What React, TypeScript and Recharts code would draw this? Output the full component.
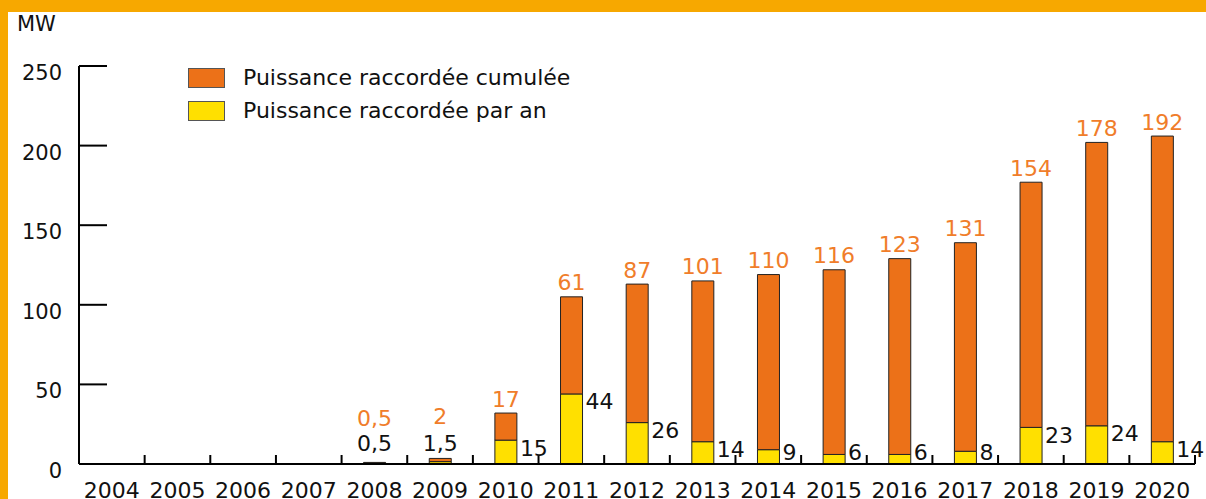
import { BarChart, Bar, XAxis, YAxis, Legend, LabelList } from "recharts";

const years = ["2004", "2005", "2006", "2007", "2008", "2009", "2010", "2011", "2012", "2013", "2014", "2015", "2016", "2017", "2018", "2019", "2020"];
const parAn = [0, 0, 0, 0, 0.5, 1.5, 15, 44, 26, 14, 9, 6, 6, 8, 23, 24, 14];
const cumulee = [0, 0, 0, 0, 0.5, 2, 17, 61, 87, 101, 110, 116, 123, 131, 154, 178, 192];
const yTicks = [0, 50, 100, 150, 200, 250];

const data = years.map((year, i) => ({ year, parAn: parAn[i], cumulee: cumulee[i] }));

const FONT = "'DejaVu Sans', sans-serif";
const ORANGE = "#ec7118";
const YELLOW = "#ffe000";
const ORANGE_TEXT = "#f07d2a";
const FRAME = "#f7a800";
const SMALL = 5;

const fmt = (v: number) => String(v).replace(".", ",");
const val = (v: any): number => (Array.isArray(v) ? v[1] - v[0] : Number(v));

function YTick({ x, y, payload }: any) {
  return (
    <g>
      <line x1={x} x2={x + 28} y1={y} y2={y} stroke="#000" strokeWidth={2} />
      <text x={x - 17} y={y + 7} textAnchor="end" dominantBaseline="central" fontSize={21} fill="#111" fontFamily={FONT}>
        {payload.value}
      </text>
    </g>
  );
}

function XTick({ x, y, payload, bandWidth }: any) {
  const half = bandWidth / 2;
  return (
    <g>
      <line x1={x + half} x2={x + half} y1={y} y2={y - 9} stroke="#000" strokeWidth={2} />
      <text x={x} y={y + 34} textAnchor="middle" fontSize={22} fill="#111" fontFamily={FONT}>
        {payload.value}
      </text>
    </g>
  );
}

function YearLabel(props: any) {
  const { x, y, width, height } = props;
  const v = val(props.value);
  if (!v) return null;
  const cx = x + width / 2;
  if (v < SMALL) {
    return (
      <text x={cx} y={y + height - 21} textAnchor="middle" dominantBaseline="central" fontSize={22} fill="#111" fontFamily={FONT}>
        {fmt(v)}
      </text>
    );
  }
  const cy = Math.min(y + 8, y + height - 12);
  return (
    <text x={x + width + 3} y={cy} dominantBaseline="central" fontSize={22} fill="#111" fontFamily={FONT}>
      {fmt(v)}
    </text>
  );
}

function CumulLabel(props: any) {
  const { x, y, width, height } = props;
  const v = val(props.value);
  if (!v) return null;
  const cx = x + width / 2;
  const cy = v < SMALL ? y + height - 45 : y - 14;
  return (
    <text x={cx} y={cy} textAnchor="middle" dominantBaseline="central" fontSize={22} fill={ORANGE_TEXT} fontFamily={FONT}>
      {fmt(v)}
    </text>
  );
}

function LegendBox({ payload }: any) {
  const items = payload || [];
  return (
    <div style={{ fontFamily: FONT }}>
      {items.map((item: any) => (
        <div key={item.value} style={{ display: "flex", alignItems: "center", height: 33 }}>
          <div style={{ width: 35, height: 18, background: item.color, border: "1px solid #555" }} />
          <span style={{ marginLeft: 18, fontSize: 22, color: "#111", whiteSpace: "nowrap" }}>{item.value}</span>
        </div>
      ))}
    </div>
  );
}

export default function App() {
  const plotLeft = 79;
  const plotRight = 1195;
  const bandWidth = (plotRight - plotLeft) / years.length;
  return (
    <div style={{ position: "absolute", left: 0, top: 0, width: 1206, height: 499, background: FRAME, overflow: "hidden", fontFamily: FONT }}>
      <div style={{ position: "absolute", left: 8, top: 12, width: 1198, height: 487, background: "#fff" }} />
      <div style={{ position: "absolute", left: 0, top: 0 }}>
        <BarChart width={1206} height={499} data={data} margin={{ top: 66, right: 1206 - plotRight, bottom: 0, left: 0 }}>
          <XAxis
            dataKey="year"
            height={35}
            interval={0}
            tickLine={false}
            tickSize={0}
            tickMargin={0}
            axisLine={{ stroke: "#000", strokeWidth: 2 }}
            tick={<XTick bandWidth={bandWidth} />}
          />
          <YAxis
            width={plotLeft}
            domain={[0, 250]}
            ticks={yTicks}
            interval={0}
            tickLine={false}
            tickSize={0}
            tickMargin={0}
            axisLine={{ stroke: "#000", strokeWidth: 2 }}
            tick={<YTick />}
            label={{
              content: () => (
                <text x={17} y={31} fontSize={21} fill="#111" fontFamily={FONT}>
                  MW
                </text>
              ),
            }}
          />
          <Legend
            layout="vertical"
            align="center"
            verticalAlign="middle"
            content={<LegendBox />}
            wrapperStyle={{ position: "absolute", left: 188, top: 61, width: 500, height: 70 }}
          />
          <Bar dataKey="parAn" name="Puissance raccordée par an" stackId="a" fill={YELLOW} stroke="#222" strokeWidth={1} barSize={22} isAnimationActive={false}>
            <LabelList dataKey="parAn" content={<YearLabel />} />
          </Bar>
          <Bar dataKey="cumulee" name="Puissance raccordée cumulée" stackId="a" fill={ORANGE} stroke="#222" strokeWidth={1} barSize={22} isAnimationActive={false}>
            <LabelList dataKey="cumulee" content={<CumulLabel />} />
          </Bar>
        </BarChart>
      </div>
    </div>
  );
}
